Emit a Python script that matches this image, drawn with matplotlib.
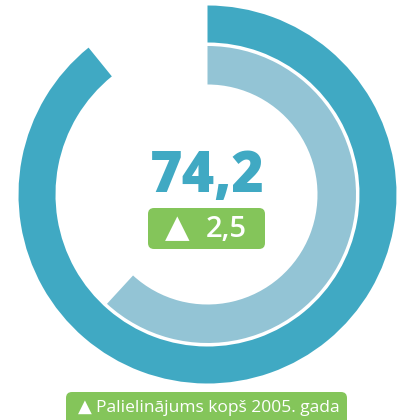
import matplotlib
matplotlib.use('Agg')
import matplotlib.pyplot as plt
from matplotlib.patches import Wedge, FancyBboxPatch

# values (scale max 120)
scale_max = 120
outer_value = 107.0
inner_value = 74.2
main_label = '74,2'
change_label = '2,5'
footer_label = 'Palielinājums kopš 2005. gada'

teal = '#40a9c3'
light_teal = '#93c4d5'
green = '#84c55a'

W, H = 403, 420
fig = plt.figure(figsize=(W / 100, H / 100), dpi=100)
ax = fig.add_axes([0, 0, 1, 1])
ax.set_xlim(0, W)
ax.set_ylim(0, H)
ax.axis('off')

cx, cy = 207.5, H - 194.5

def ring(value, r, width, color):
    span = value / scale_max * 360
    ax.add_patch(Wedge((cx, cy), r, 90 - span, 90, width=width,
                       facecolor=color, edgecolor='none'))

ring(outer_value, 189, 37, teal)
ring(inner_value, 148.5, 38.5, light_teal)

ax.text(cx, H - 178, main_label, ha='center', va='center', fontsize=40,
        fontweight='heavy', family='Open Sans', color=teal)

# change badge
ax.add_patch(FancyBboxPatch((148, H - 249), 117, 41,
                            boxstyle='round,pad=0,rounding_size=6',
                            facecolor=green, edgecolor='none'))
ax.text(177.5, H - 229, '▲', ha='center', va='center', fontsize=23,
        family='DejaVu Sans', color='white')
ax.text(226.5, H - 229.5, change_label, ha='center', va='center', fontsize=21,
        fontweight='semibold', family='Open Sans', color='white')

# footer badge
ax.add_patch(FancyBboxPatch((66, H - 432), 281, 40,
                            boxstyle='round,pad=0,rounding_size=6',
                            facecolor=green, edgecolor='none'))
ax.text(85, H - 407, '▲', ha='center', va='center', fontsize=13,
        family='DejaVu Sans', color='white')
ax.text(217.5, H - 407.5, footer_label, ha='center', va='center', fontsize=12.5,
        family='Open Sans', color='white')

fig.savefig('out.png', dpi=100)
